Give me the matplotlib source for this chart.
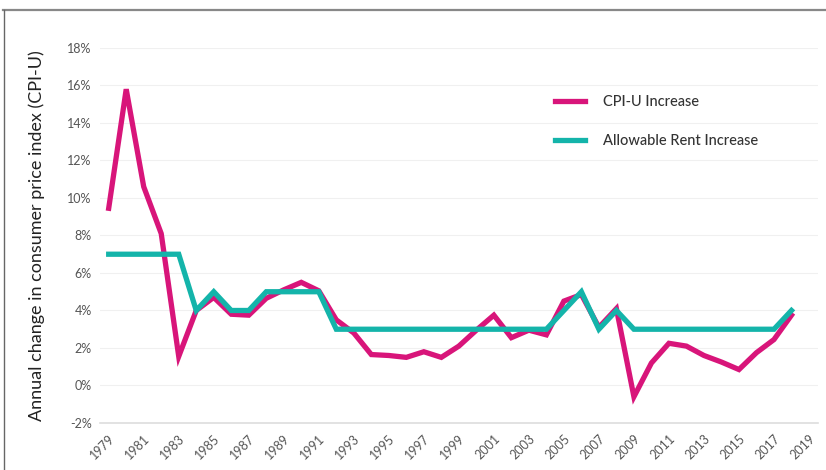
import matplotlib.pyplot as plt
from matplotlib.lines import Line2D

plt.rcParams['font.family'] = ['Lato', 'DejaVu Sans']

years = list(range(1979, 2019))
cpi_u = [9.45, 15.8, 10.6, 8.1, 1.55, 4.0, 4.7, 3.8, 3.75, 4.65,
         5.1, 5.5, 5.05, 3.5, 2.8, 1.65, 1.6, 1.5, 1.8, 1.5,
         2.1, 2.95, 3.75, 2.55, 2.95, 2.7, 4.5, 4.85, 3.1, 4.1,
         -0.6, 1.2, 2.25, 2.1, 1.6, 1.25, 0.85, 1.75, 2.45, 3.75]
allowable = [7, 7, 7, 7, 7, 4, 5, 4, 4, 5,
             5, 5, 5, 3, 3, 3, 3, 3, 3, 3,
             3, 3, 3, 3, 3, 3, 4, 5, 3, 4,
             3, 3, 3, 3, 3, 3, 3, 3, 3, 4]
yticks = list(range(-2, 19, 2))
xticks = list(range(1979, 2020, 2))

pink = '#D8157A'
teal = '#14B4AA'

fig = plt.figure(figsize=(8.26, 4.70), dpi=100)
ax = fig.add_axes([0.121, 0.1, 0.869, 0.798])

ax.plot(years, cpi_u, color=pink, lw=3.8, label='CPI-U Increase', solid_joinstyle='miter')
ax.plot(years, allowable, color=teal, lw=3.8, label='Allowable Rent Increase', solid_joinstyle='miter')

ax.set_xlim(1978.5, 2019.5)
ax.set_ylim(-2, 18)
ax.tick_params(length=0, labelsize=9, colors='#555555', pad=6)
ax.tick_params(axis='x', pad=7, labelrotation=45)
ax.set_yticks(yticks)
ax.set_yticklabels([f'{v}%' for v in yticks])
ax.set_xticks(xticks)
ax.set_xticklabels([str(x) for x in xticks])
for lab in ax.get_xticklabels():
    lab.set_ha('right')
    lab.set_rotation_mode('anchor')
ax.grid(axis='y', color='#f0f0f0', lw=0.8)
ax.set_axisbelow(True)
for s in ['top', 'right', 'left']:
    ax.spines[s].set_visible(False)
ax.spines['bottom'].set_color('#dddddd')
ax.spines['bottom'].set_linewidth(1.2)

ax.set_ylabel('Annual change in consumer price index (CPI-U)', fontsize=13, color='#222222', labelpad=16)

leg = ax.legend(loc='upper left', bbox_to_anchor=(0.615, 0.91), frameon=False,
                prop={'size': 10.5, 'weight': 'medium'}, handlelength=2.1,
                labelspacing=1.75, handletextpad=1.2)
for t in leg.get_texts():
    t.set_color('#333333')

# outer frame lines
fig.add_artist(Line2D([0.004, 1.0], [1 - 10 / 470, 1 - 10 / 470], color='#888888', lw=1.6, transform=fig.transFigure))
fig.add_artist(Line2D([0.005, 0.005], [0, 1 - 10 / 470], color='#666666', lw=1.0, transform=fig.transFigure))

fig.savefig('out.png', dpi=100)
